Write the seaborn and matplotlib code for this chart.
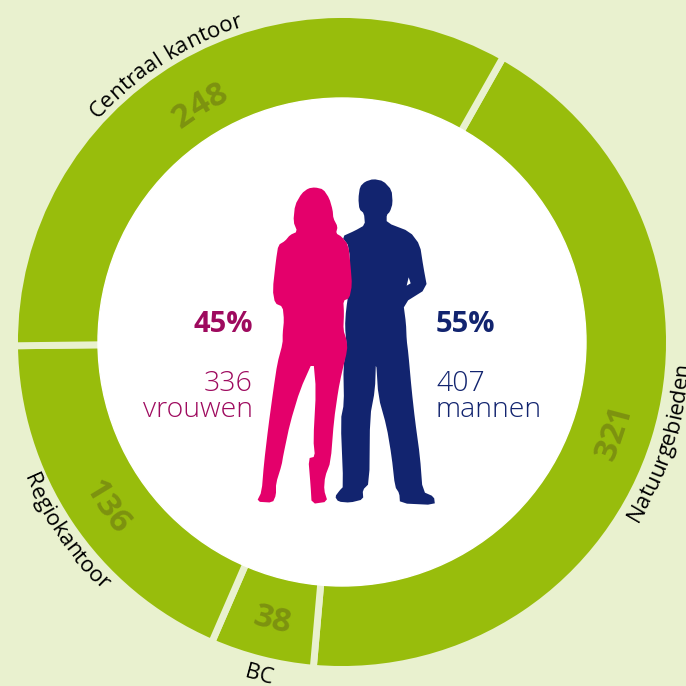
import numpy as np
import matplotlib
matplotlib.use('Agg')
import matplotlib.pyplot as plt
from matplotlib.font_manager import FontProperties
from matplotlib.textpath import TextToPath
import seaborn as sns

# Data
departments = ['Natuurgebieden', 'BC', 'Regiokantoor', 'Centraal kantoor']
employees = [321, 38, 136, 248]
gender_pct = ['45%', '55%']
gender_count = ['336', '407']
gender_label = ['vrouwen', 'mannen']

# Colours
BG = '#e9f1cf'
RING = '#98bd0c'
NUMBER = '#7d9210'
PINK = '#e4006b'
PINK_TEXT = '#9e0a5e'
NAVY = '#12246f'
FONT = 'Open Sans'

# Silhouettes, traced in 3x pixels
WOMAN = [(225,52),(250,58),(268,85),(278,120),(280,145),(293,170),(288,190),(305,200),(325,225),
         (332,290),(336,345),(328,385),(310,392),(312,430),(310,480),(320,510),(322,540),(305,610),
         (295,660),(282,750),(272,875),(255,920),(252,960),(263,995),(215,1002),(212,950),(205,865),
         (225,860),(220,810),(228,660),(220,570),(180,660),(150,760),(130,855),(125,885),(108,940),
         (108,975),(98,998),(50,995),(65,965),(72,880),(85,770),(100,660),(112,580),(128,520),
         (128,490),(132,450),(128,410),(105,400),(98,360),(108,270),(115,225),(135,213),(150,195),
         (172,185),(160,155),(165,105),(185,70),(205,55)]
MAN = [(400,27),(430,33),(455,60),(458,100),(450,125),(440,135),(440,158),(510,185),(540,225),
       (550,290),(562,355),(490,400),(498,460),(500,510),(505,550),(515,660),(525,750),(540,860),
       (548,965),(582,980),(585,1005),(480,1000),(478,970),(465,950),(455,860),(440,770),(415,680),
       (408,570),(405,660),(390,740),(388,940),(368,960),(370,988),(330,998),(295,995),(285,980),
       (300,960),(310,950),(302,750),(312,700),(310,590),(320,530),(315,470),(318,420),(330,340),
       (328,230),(305,200),(345,182),(375,165),(372,130),(358,118),(355,85),(360,50),(375,35)]
NOTCH = [(506,322),(512,340),(500,347)]

CX, CY = 342, 344  # ring centre, y measured up from the bottom


def trace(points, rounds=1):
    pts = np.array(points, dtype=float)
    # round off the corners of the traced outline
    for _ in range(rounds):
        nxt = np.roll(pts, -1, axis=0)
        pts = np.column_stack([0.8 * pts + 0.2 * nxt, 0.2 * pts + 0.8 * nxt]).reshape(-1, 2)
    return 240 + pts[:, 0] / 3, 686 - (170 + pts[:, 1] / 3)


def ring_text(ax, s, radius, angle, size, color, inward=False, weight='normal'):
    # angle is clockwise from the top, letters are set one by one along the circle
    prop = FontProperties(family=FONT, size=size, weight=weight)
    t2p = TextToPath()
    width = lambda part: t2p.get_text_width_height_descent(part, prop, False)[0] * 100 / 72
    total = width(s)
    for i, ch in enumerate(s):
        pos = width(s[:i]) + width(ch) / 2 - total / 2
        if inward:
            a = angle - np.degrees(pos / radius)
            rot = 180 - a
        else:
            a = angle + np.degrees(pos / radius)
            rot = -a
        x = CX + radius * np.sin(np.radians(a))
        y = CY + radius * np.cos(np.radians(a))
        ax.text(x, y, ch, fontproperties=prop, color=color, rotation=rot,
                rotation_mode='anchor', ha='center', va='baseline')


sns.set_theme(style='white')
plt.rcParams['font.family'] = [FONT, 'DejaVu Sans']

fig = plt.figure(figsize=(6.86, 6.86), dpi=100, facecolor=BG)
ax = fig.add_axes([0, 0, 1, 1])
ax.set_facecolor(BG)

# Ring
ax.pie(employees, colors=sns.color_palette([RING], 4), startangle=60.5, counterclock=False,
       center=(CX, CY), radius=327.5, wedgeprops={'edgecolor': BG, 'linewidth': 5})
ax.add_patch(plt.Circle((CX, CY), 244, color='white', zorder=3))

ax.set_xlim(0, 686)
ax.set_ylim(0, 686)
ax.set_aspect('equal')
ax.axis('off')

# Department names and numbers
ring_text(ax, departments[0], 347, 107.5, 16, 'black', inward=True, weight='medium')
ring_text(ax, departments[1], 349, 194, 16, 'black', inward=True, weight='medium')
ring_text(ax, departments[2], 346, 235.5, 16, 'black', inward=True, weight='medium')
ring_text(ax, departments[3], 331, 327.5, 16, 'black', weight='medium')

ring_text(ax, str(employees[0]), 296, 108.4, 24, NUMBER, inward=True, weight='bold')
ring_text(ax, str(employees[1]), 296, 194, 24, NUMBER, inward=True, weight='bold')
ring_text(ax, str(employees[2]), 296, 235, 24, NUMBER, inward=True, weight='bold')
ring_text(ax, str(employees[3]), 267, 329, 24, NUMBER, weight='bold')

# People
ax.fill(*trace(MAN), color=NAVY, lw=0, zorder=4)
ax.fill(*trace(NOTCH, 0), color='white', lw=0, zorder=4)
ax.fill(*trace(WOMAN), color=PINK, lw=0, zorder=5)

# Percentages and counts
ax.text(253, 686 - 332, gender_pct[0], color=PINK_TEXT, fontsize=21, fontweight='bold', ha='right', va='baseline', zorder=6)
ax.text(253, 686 - 391, gender_count[0], color=PINK_TEXT, fontsize=20.5, fontweight='light', ha='right', va='baseline', zorder=6)
ax.text(253, 686 - 417, gender_label[0], color=PINK_TEXT, fontsize=20.5, fontweight='light', ha='right', va='baseline', zorder=6)
ax.text(436, 686 - 332, gender_pct[1], color=NAVY, fontsize=21, fontweight='bold', ha='left', va='baseline', zorder=6)
ax.text(436, 686 - 391, gender_count[1], color=NAVY, fontsize=20.5, fontweight='light', ha='left', va='baseline', zorder=6)
ax.text(436, 686 - 417, gender_label[1], color=NAVY, fontsize=20.5, fontweight='light', ha='left', va='baseline', zorder=6)

fig.savefig('out.png', dpi=100, facecolor=BG)
plt.close(fig)
